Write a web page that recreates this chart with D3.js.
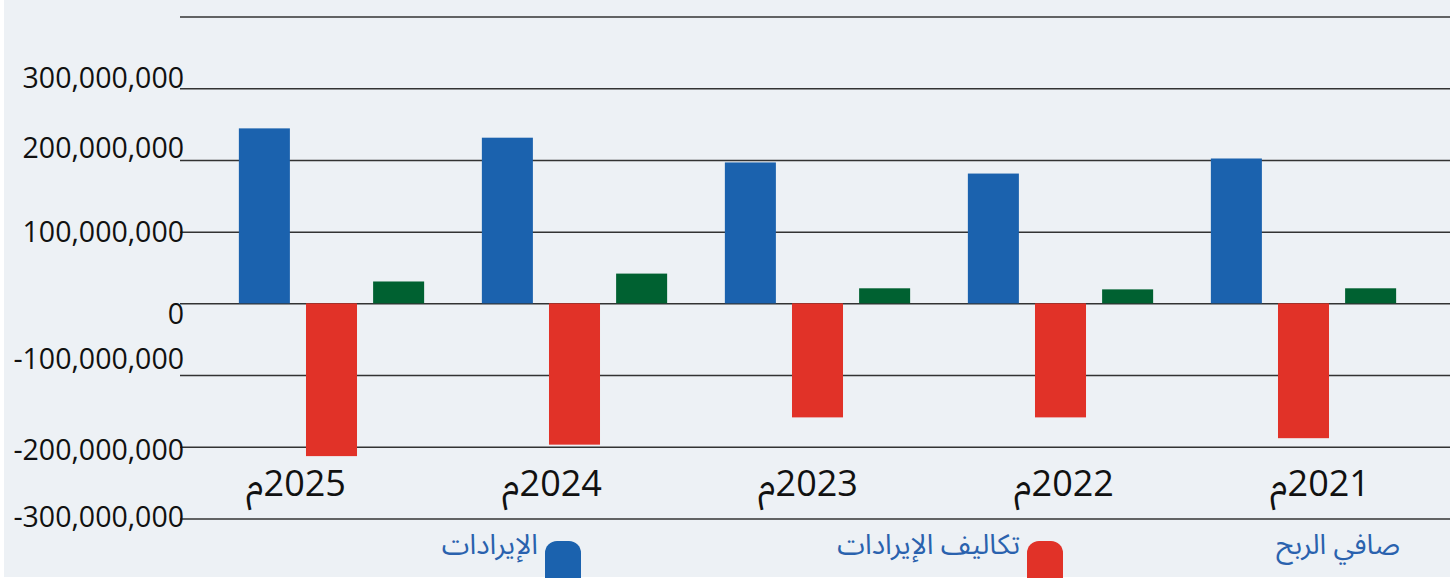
<!DOCTYPE html>
<html lang="ar">
<head>
<meta charset="utf-8">
<script src="https://cdn.jsdelivr.net/npm/d3@7"></script>
<style>
  html, body { margin: 0; padding: 0; background: #ffffff; }
  svg { display: block; }
</style>
</head>
<body>
<svg id="chart" width="1450" height="578"></svg>
<script>
// ---- data ----
const years = ["2025م", "2024م", "2023م", "2022م", "2021م"];
const seriesNames = ["الإيرادات", "تكاليف الإيرادات", "صافي الربح"];
const revenue = [244000000, 231000000, 196500000, 181000000, 202000000];
const costOfRevenue = [-213000000, -197000000, -159000000, -159000000, -188000000];
const netProfit = [30500000, 41500000, 21000000, 19500000, 21000000];
const tickValues = [-300000000, -200000000, -100000000, 0, 100000000, 200000000, 300000000, 400000000];
const tickLabels = ["-300,000,000", "-200,000,000", "-100,000,000", "0", "100,000,000", "200,000,000", "300,000,000", ""];

// ---- style ----
const colors = ["#1b62ae", "#e13228", "#006131"];
const bg = "#edf1f5";
const labelNudge = [8, 13, -6, 21, 10, -2, 0, 0]; // baseline offsets of the tick labels

const svg = d3.select("#chart");
const W = 1450, H = 578;

svg.append("rect").attr("x", 4).attr("y", 0).attr("width", W - 4).attr("height", H - 1).attr("fill", bg);

const y = d3.scaleLinear().domain([-300000000, 400000000]).range([518.5, 16.5]);

// groups
const x0 = d3.scaleBand().domain(years).range([210, 1425]).paddingInner(0).paddingOuter(0);
const x1 = d3.scaleBand().domain(seriesNames).range([0, x0.bandwidth()]).paddingInner(0.24).paddingOuter(0.43);
const xLabel = d3.scalePoint().domain(years).range([296, 1320]);

// gridlines
const yAxis = d3.axisLeft(y).tickValues(tickValues).tickSize(-(W - 180)).tickFormat("");
const gAxis = svg.append("g").attr("transform", "translate(180,0)").call(yAxis);
gAxis.select(".domain").remove();
gAxis.selectAll(".tick line").attr("stroke", "#333").attr("stroke-width", 1.5);

// tick labels
svg.append("g").selectAll("text").data(tickValues).join("text")
  .attr("x", 184)
  .attr("y", (d, i) => y(d) + labelNudge[i])
  .attr("text-anchor", "end")
  .attr("font-family", "'Open Sans', 'Noto Sans', sans-serif")
  .attr("font-size", 28.5)
  .attr("fill", "#111")
  .text((d, i) => tickLabels[i]);

// bars
const rows = years.map((yr, i) => ({ year: yr, values: [revenue[i], costOfRevenue[i], netProfit[i]] }));
const groups = svg.append("g").selectAll("g").data(rows).join("g")
  .attr("transform", d => `translate(${x0(d.year)},0)`);
groups.selectAll("rect").data(d => d.values.map((v, k) => ({ v, k }))).join("rect")
  .attr("x", d => x1(seriesNames[d.k]))
  .attr("width", x1.bandwidth())
  .attr("y", d => y(Math.max(0, d.v)))
  .attr("height", d => Math.abs(y(d.v) - y(0)))
  .attr("fill", d => colors[d.k]);

// year labels
svg.append("g").selectAll("text").data(years).join("text")
  .attr("x", d => xLabel(d))
  .attr("y", 496)
  .attr("text-anchor", "middle")
  .style("direction", "rtl")
  .style("unicode-bidi", "embed")
  .attr("font-family", "'Open Sans', 'Noto Sans', 'Noto Sans Arabic', sans-serif")
  .attr("font-size", 36)
  .attr("fill", "#111")
  .text(d => d);

// legend
const legendRight = [538, 1020, 1400];
const legend = svg.append("g");
seriesNames.forEach((name, i) => {
  if (i < 2) {
    legend.append("rect")
      .attr("x", legendRight[i] + 7).attr("y", 541)
      .attr("width", 36).attr("height", 50)
      .attr("rx", 12).attr("ry", 12)
      .attr("fill", colors[i]);
  }
  legend.append("text")
    .attr("x", legendRight[i])
    .attr("y", 554)
    .attr("text-anchor", "end")
    .attr("font-family", "'Noto Sans Arabic', 'Noto Sans', 'DejaVu Sans', sans-serif")
    .attr("font-size", 28)
    .attr("fill", "#2a62ae")
    .text(name);
});
</script>
</body>
</html>
